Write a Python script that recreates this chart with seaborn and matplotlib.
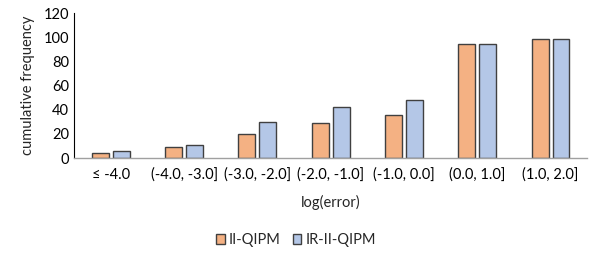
import pandas as pd
import numpy as np
import matplotlib
matplotlib.use("Agg")
import matplotlib.pyplot as plt
import seaborn as sns

# data
bins = ["≤ -4.0", "(-4.0, -3.0]", "(-3.0, -2.0]", "(-2.0, -1.0]",
        "(-1.0, 0.0]", "(0.0, 1.0]", "(1.0, 2.0]"]
ii_qipm = [4, 9, 20, 29, 36, 95, 99]
ir_ii_qipm = [6, 11, 30, 42, 48, 95, 99]
methods = ["II-QIPM", "IR-II-QIPM"]
colors = ["#F4B183", "#B4C7E7"]

df = pd.DataFrame({
    "bin": bins * 2,
    "freq": ii_qipm + ir_ii_qipm,
    "method": [methods[0]] * len(bins) + [methods[1]] * len(bins),
})

sns.set_theme(style="white")
plt.rcParams['font.family'] = ['Lato', 'DejaVu Sans']

fig = plt.figure(figsize=(5.98, 2.57), dpi=100)
ax = fig.add_axes([0.124, 0.385, 0.858, 0.563])

sns.barplot(data=df, x="bin", y="freq", hue="method", palette=colors,
            saturation=1, width=0.57, gap=0.19, edgecolor="#404040",
            linewidth=1.0, ax=ax, legend=True)

ax.set_ylim(0, 120)
ax.set_yticks(range(0, 121, 20))
ax.set_xlim(-0.5, len(bins) - 0.5)
ax.tick_params(axis="both", length=0, labelsize=10.5, colors="#000000")
ax.tick_params(axis="x", pad=7)
ax.set_xlabel("log(error)", fontsize=10.5, labelpad=9)
ax.set_ylabel("cumulative frequency", fontsize=10.5, labelpad=6)

for side in ["top", "right"]:
    ax.spines[side].set_visible(False)
ax.spines["left"].set_color("#000000")
ax.spines["left"].set_linewidth(0.8)
ax.spines["bottom"].set_color("#A0A0A0")
ax.spines["bottom"].set_linewidth(1.0)

handles, labels = ax.get_legend_handles_labels()
ax.legend_.remove()
fig.legend(handles, labels, loc="center", bbox_to_anchor=(0.495, 0.066),
           ncol=2, frameon=False, fontsize=10.5, handlelength=0.6,
           handleheight=0.6, handletextpad=0.3, columnspacing=0.8)

plt.savefig("out.png", dpi=100)
